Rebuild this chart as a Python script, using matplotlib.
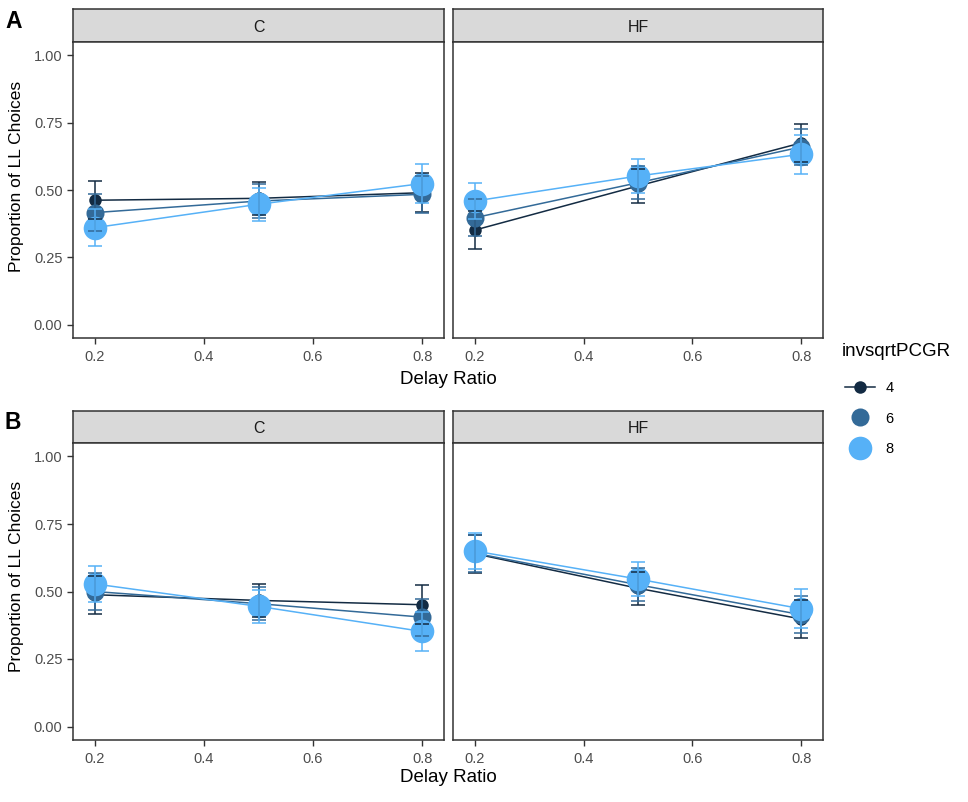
import matplotlib
matplotlib.use("Agg")
import matplotlib.pyplot as plt
from matplotlib.lines import Line2D
import numpy as np

plt.rcParams['font.family'] = ['Liberation Sans', 'DejaVu Sans']

delay = [0.2, 0.5, 0.8]
groups = [4, 6, 8]
colors = {4: '#132B43', 6: '#336A98', 8: '#56B1F7'}
msize = {4: 9, 6: 13, 8: 17}

# Panel A means (per invsqrtPCGR group)
A_C = {4: [0.462, 0.469, 0.490], 6: [0.416, 0.459, 0.484], 8: [0.360, 0.447, 0.524]}
A_HF = {4: [0.351, 0.515, 0.675], 6: [0.397, 0.527, 0.660], 8: [0.459, 0.552, 0.633]}
B_C = {4: [0.488, 0.467, 0.451], 6: [0.500, 0.455, 0.405], 8: [0.528, 0.445, 0.352]}
B_HF = {4: [0.640, 0.512, 0.398], 6: [0.642, 0.525, 0.414], 8: [0.650, 0.546, 0.436]}
# standard errors
se = {4: [0.070, 0.062, 0.072], 6: [0.068, 0.062, 0.068], 8: [0.068, 0.062, 0.072]}

W, H = 968, 802
fig = plt.figure(figsize=(W / 100, H / 100), dpi=100)

def ax_px(l, t, r, b):
    return fig.add_axes([l / W, 1 - b / H, (r - l) / W, (b - t) / H])

def strip(l, t, r, b, label):
    sa = ax_px(l, t, r, b)
    sa.set_facecolor('#D9D9D9')
    sa.set_xticks([]); sa.set_yticks([])
    for s in sa.spines.values():
        s.set_color('#333333'); s.set_linewidth(1.1)
    sa.text(0.5, 0.45, label, ha='center', va='center', fontsize=11.5, color='#1A1A1A',
            transform=sa.transAxes)

def panel(l, t, r, b, data, show_y):
    ax = ax_px(l, t, r, b)
    for g in groups:
        ax.plot(delay, data[g], color=colors[g], lw=1.1, zorder=2)
    for g in groups:
        ax.plot(delay, data[g], 'o', color=colors[g], ms=msize[g], mew=0, zorder=3)
    for g in groups:
        ax.errorbar(delay, data[g], yerr=se[g], fmt='none', ecolor=colors[g],
                    elinewidth=1.1, capsize=5, capthick=1.1, zorder=4)
    ax.set_xlim(0.16, 0.84)
    ax.set_ylim(-0.05, 1.05)
    ax.set_xticks([0.2, 0.4, 0.6, 0.8])
    ax.set_xticklabels(['0.2', '0.4', '0.6', '0.8'])
    ax.set_yticks([0, 0.25, 0.5, 0.75, 1.0])
    if show_y:
        ax.set_yticklabels(['0.00', '0.25', '0.50', '0.75', '1.00'])
    else:
        ax.set_yticklabels([])
    ax.tick_params(colors='#333333', labelcolor='#4D4D4D', labelsize=10.5, length=4, width=1)
    ax.tick_params(axis='x', pad=4.5)
    if not show_y:
        ax.tick_params(axis='y', length=0)
    for s in ax.spines.values():
        s.set_color('#333333'); s.set_linewidth(1.1)
    return ax

# Row A
strip(73, 9, 444, 42, 'C')
strip(453, 9, 823, 42, 'HF')
panel(73, 42, 444, 338, A_C, True)
panel(453, 42, 823, 338, A_HF, False)
# Row B
strip(73, 411, 444, 443, 'C')
strip(453, 411, 823, 443, 'HF')
panel(73, 443, 444, 740, B_C, True)
panel(453, 443, 823, 740, B_HF, False)

fig.text(448 / W, 1 - 380 / H, 'Delay Ratio', ha='center', va='center', fontsize=13.5, color='black')
fig.text(448 / W, 1 - 778 / H, 'Delay Ratio', ha='center', va='center', fontsize=13.5, color='black')
fig.text(17 / W, 1 - 176 / H, 'Proportion of LL Choices', ha='center', va='center',
         rotation=90, fontsize=12.5, color='black')
fig.text(17 / W, 1 - 576 / H, 'Proportion of LL Choices', ha='center', va='center',
         rotation=90, fontsize=12.5, color='black')
fig.text(5 / W, 1 - 22 / H, 'A', ha='left', va='center', fontsize=16.5, fontweight='bold')
fig.text(5 / W, 1 - 423 / H, 'B', ha='left', va='center', fontsize=16.5, fontweight='bold')

fig.text(842 / W, 1 - 351 / H, 'invsqrtPCGR', ha='left', va='center', fontsize=13.5, color='black')
handles = [Line2D([0], [0], color=colors[g], lw=1.1 if g == 4 else 0, marker='o',
                  ms=msize[g], mew=0)
           for g in groups]
leg = fig.legend(handles, [str(g) for g in groups],
                 loc='upper left', bbox_to_anchor=(839 / W, 1 - 375 / H), frameon=False,
                 fontsize=10.5, handlelength=2.1, handletextpad=0.7,
                 labelspacing=1.15, borderaxespad=0)

fig.savefig('out.png', dpi=100, facecolor='white')
